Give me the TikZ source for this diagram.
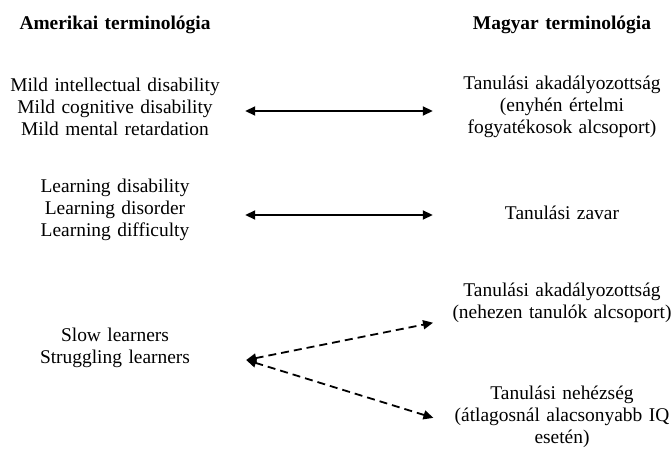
\documentclass[tikz,border=0pt]{standalone}
\usepackage{fontspec}
\setmainfont{Liberation Serif}
\usepackage{tikz}
\usetikzlibrary{arrows.meta, positioning}

\begin{document}
\begin{tikzpicture}[
  x=1bp, y=-1bp,
  term/.style={inner sep=0pt, text width=230bp, align=center,
               font=\fontsize{19.5}{22}\selectfont},
  head/.style={term, font=\fontsize{19.5}{22}\selectfont\bfseries},
  arr/.style={{Triangle[length=10bp,width=9bp]}-{Triangle[length=10bp,width=9bp]}, line width=1.8bp},
  darr/.style={arr, dash pattern=on 8bp off 5bp}
]
\useasboundingbox (0,0) rectangle (672,450);

\node[head] (hl) at (115,25) {Amerikai terminológia};
\node[head] (hr) at (562,25) {Magyar terminológia};

\node[term] (am1) at (115,107) {Mild intellectual disability\\Mild cognitive disability\\Mild mental retardation};
\node[term] (am2) at (115,210) {Learning disability\\Learning disorder\\Learning difficulty};
\node[term] (am3) at (115,348) {Slow learners\\Struggling learners};

\node[term] (hu1) at (562,107) {Tanulási akadályozottság\\(enyhén értelmi\\fogyatékosok alcsoport)};
\node[term] (hu2) at (562,213) {Tanulási zavar};
\node[term] (hu3) at (562,303) {Tanulási akadályozottság\\(nehezen tanulók alcsoport)};
\node[term] (hu4) at (562,417) {Tanulási nehézség\\(átlagosnál alacsonyabb IQ\\esetén)};

% common tip of the two dashed arrows
\coordinate (fork) at ([xshift=16bp, yshift=-12bp]am3.east);

\draw[arr, shorten <=15bp, shorten >=14bp] ([yshift=-4bp]am1.east) -- ([yshift=-4bp]hu1.west);
\draw[arr, shorten <=15bp, shorten >=14bp] ([yshift=-5bp]am2.east) -- ([yshift=-2bp]hu2.west);
\draw[darr, shorten >=14bp] (fork) -- ([yshift=-17bp]hu3.west);
\draw[darr, shorten >=14bp] (fork) -- ([yshift=-5bp]hu4.west);
\end{tikzpicture}
\end{document}
